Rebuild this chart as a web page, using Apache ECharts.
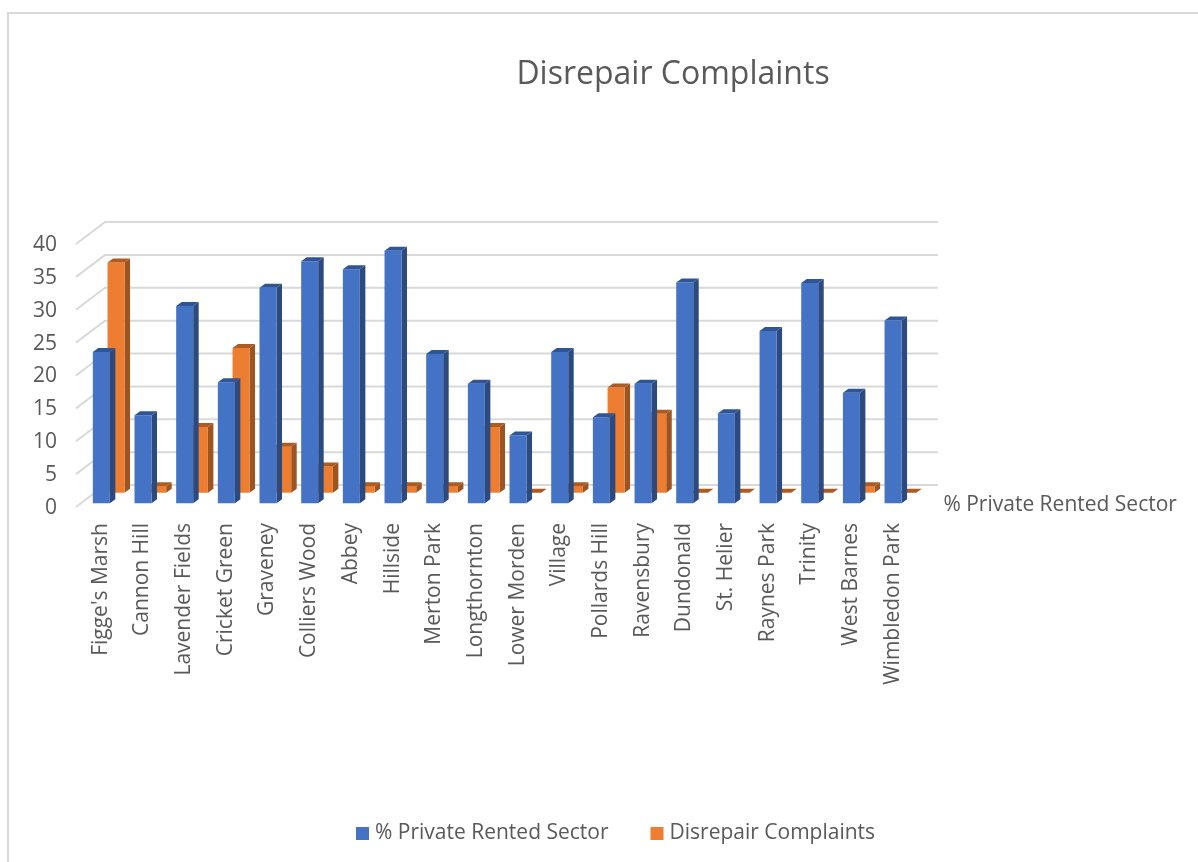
<!DOCTYPE html>
<html>
<head>
<meta charset="utf-8">
<style>html,body{margin:0;padding:0;background:#fff}#c{width:1198px;height:862px}</style>
<script src="https://cdn.jsdelivr.net/npm/echarts@6/dist/echarts.min.js"></script>
</head>
<body>
<div id="c"></div>
<script>
const categories = ["Figge's Marsh","Cannon Hill","Lavender Fields","Cricket Green","Graveney","Colliers Wood","Abbey","Hillside","Merton Park","Longthornton","Lower Morden","Village","Pollards Hill","Ravensbury","Dundonald","St. Helier","Raynes Park","Trinity","West Barnes","Wimbledon Park"];
const privateRented = [23,13.4,30,18.4,32.8,36.8,35.6,38.4,22.7,18.2,10.3,23,13.1,18.2,33.6,13.7,26.2,33.5,16.8,27.8];
const complaints = [35,1,10,22,7,4,1,1,1,10,0,1,16,12,0,0,0,0,1,0];
const yTicks = [0,5,10,15,20,25,30,35,40];

const FONT = '"Open Sans"';
const GREY = '#595959';

function bar3D(dx, baseShift, front, side, top) {
  return function (params, api) {
    const i = api.value(0);
    const base = api.coord([i, 0]);
    const head = api.coord([i, api.value(1)]);
    const w = 17, ox = 5.5, oy = 4;
    const x0 = base[0] + dx, x1 = x0 + w;
    const yb = base[1] + baseShift, yt = head[1] + baseShift;
    const children = [];
    if (yb - yt > 0.1) {
      children.push({type:'polygon',shape:{points:[[x1,yt],[x1+ox,yt-oy],[x1+ox,yb-oy],[x1,yb]]},style:{fill:side}});
      children.push({type:'rect',shape:{x:x0,y:yt,width:w,height:yb-yt},style:{fill:front}});
    }
    children.push({type:'polygon',shape:{points:[[x0,yt],[x0+ox,yt-oy],[x1+ox,yt-oy],[x1,yt]]},style:{fill:top}});
    return {type:'group',children};
  };
}

function wall(params, api) {
  const cs = params.coordSys;
  const y = api.coord([0, api.value(0)])[1];
  const line = {stroke:'#d9d9d9',lineWidth:2,fill:null};
  const backY = y - 23;
  return {type:'group',children:[
    {type:'polyline',shape:{points:[[cs.x-4,y-1],[cs.x+25,backY],[cs.x+cs.width+24.5,backY]]},style:line}
  ]};
}

const chart = echarts.init(document.getElementById('c'), null, {renderer:'canvas'});
chart.setOption({
  animation:false,
  backgroundColor:'#fff',
  textStyle:{fontFamily:FONT},
  title:{text:'Disrepair Complaints',left:668,top:54,textAlign:'center',
    textStyle:{fontFamily:FONT,fontSize:32,fontWeight:'normal',color:GREY}},
  legend:{left:351,top:818,itemWidth:13,itemHeight:13,itemGap:42,icon:'rect',
    data:['% Private Rented Sector','Disrepair Complaints'],
    textStyle:{fontFamily:FONT,fontSize:21,color:GREY,padding:[0,0,0,1]}},
  grid:{left:80,width:833.4,top:245,height:263,containLabel:false},
  xAxis:{type:'category',data:categories,
    name:'% Private Rented Sector',nameLocation:'end',nameGap:30,
    nameTextStyle:{fontFamily:FONT,fontSize:21,color:GREY,verticalAlign:'bottom',lineHeight:6},
    axisLine:{show:false},axisTick:{show:false},
    axisLabel:{rotate:90,interval:0,margin:15,fontFamily:FONT,fontSize:21,color:GREY}},
  yAxis:{type:'value',min:0,max:40,interval:5,
    axisLine:{show:false},axisTick:{show:false},splitLine:{show:false},
    axisLabel:{margin:23,fontFamily:FONT,fontSize:21,color:GREY}},
  series:[
    {name:'wall',type:'custom',silent:true,z:1,renderItem:wall,
      data:yTicks.map(v=>[v]),encode:{y:0},clip:false},
    {name:'Disrepair Complaints',type:'custom',z:2,clip:false,
      itemStyle:{color:'#ed7d31'},
      renderItem:bar3D(6.7,-15.3,'#ed7d31','#9c5421','#ae5a21'),
      data:complaints.map((v,i)=>[i,v]),encode:{x:0,y:1}},
    {name:'% Private Rented Sector',type:'custom',z:3,clip:false,
      itemStyle:{color:'#4472c4'},
      renderItem:bar3D(-8,-4.7,'#4472c4','#2c4a7e','#2f5597'),
      data:privateRented.map((v,i)=>[i,v]),encode:{x:0,y:1}}
  ],
  graphic:[
    {type:'polyline',silent:true,z:0,shape:{points:[[8,862],[8,13],[1198,13]]},
      style:{stroke:'#d9d9d9',lineWidth:2,fill:null}}
  ]
});
</script>
</body>
</html>
